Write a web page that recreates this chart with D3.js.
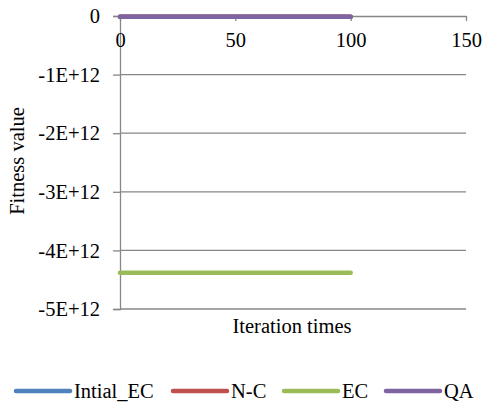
<!DOCTYPE html>
<html>
<head>
<meta charset="utf-8">
<script src="https://cdn.jsdelivr.net/npm/d3@7"></script>
<style>
  html, body { margin: 0; padding: 0; background: #fff; }
  svg text { font-family: "Liberation Serif", "Times New Roman", Times, "DejaVu Serif", serif; fill: #000; }
</style>
</head>
<body>
<svg id="chart" width="483" height="405"></svg>
<script>
// Iterations sampled along each run
const iterations = [0, 10, 20, 30, 40, 50, 60, 70, 80, 90, 100];

// Fitness values per algorithm
const initialEC = [-1.2e10, -1.2e10, -1.2e10, -1.2e10, -1.2e10, -1.2e10, -1.2e10, -1.2e10, -1.2e10, -1.2e10, -1.2e10];
const nC        = [-1.2e10, -1.2e10, -1.2e10, -1.2e10, -1.2e10, -1.2e10, -1.2e10, -1.2e10, -1.2e10, -1.2e10, -1.2e10];
const ec        = [-4.38e12, -4.38e12, -4.38e12, -4.38e12, -4.38e12, -4.38e12, -4.38e12, -4.38e12, -4.38e12, -4.38e12, -4.38e12];
const qa        = [-1.2e10, -1.2e10, -1.2e10, -1.2e10, -1.2e10, -1.2e10, -1.2e10, -1.2e10, -1.2e10, -1.2e10, -1.2e10];

const seriesNames  = ["Intial_EC", "N-C", "EC", "QA"];
const seriesColors = ["#4F81BD", "#C0504D", "#9BBB59", "#8064A2"];
const seriesValues = [initialEC, nC, ec, qa];

const xTicks = [0, 50, 100, 150];
const yTicks = [0, -1e12, -2e12, -3e12, -4e12, -5e12];
const yTickLabels = ["0", "-1E+12", "-2E+12", "-3E+12", "-4E+12", "-5E+12"];

const FONT = "Liberation Serif, Times New Roman, DejaVu Serif, serif";
const FS = 20.5;

const svg = d3.select("#chart");
const x = d3.scaleLinear().domain([0, 150]).range([120, 466]);
const y = d3.scaleLinear().domain([-5e12, 0]).range([309, 16]);
const axisColor = "#878787";

// Horizontal gridlines
svg.append("g")
  .selectAll("line")
  .data(yTicks.filter(v => v !== 0))
  .join("line")
  .attr("x1", x(0)).attr("x2", x(150))
  .attr("y1", d => y(d)).attr("y2", d => y(d))
  .attr("stroke", axisColor).attr("stroke-width", 1.3);

// Y axis
const yAxis = svg.append("g")
  .attr("transform", `translate(${x(0)},0)`)
  .call(d3.axisLeft(y).tickValues(yTicks)
    .tickFormat((d, i) => yTickLabels[i]).tickSize(7).tickPadding(13));
yAxis.attr("font-family", FONT).attr("font-size", FS);
yAxis.select(".domain").attr("stroke", axisColor).attr("stroke-width", 1.3);
yAxis.selectAll(".tick line").attr("stroke", axisColor).attr("stroke-width", 1.3);
yAxis.selectAll(".tick text").attr("fill", "#000").attr("dy", "0.33em");

// X axis crossing at zero
const xAxis = svg.append("g")
  .attr("transform", `translate(0,${y(0)})`)
  .call(d3.axisBottom(x).tickValues(xTicks).tickSize(5).tickSizeOuter(0));
xAxis.attr("font-family", FONT).attr("font-size", FS);
xAxis.select(".domain").attr("stroke", axisColor).attr("stroke-width", 1.3);
xAxis.selectAll(".tick line").attr("stroke", axisColor).attr("stroke-width", 1.3);
xAxis.selectAll(".tick text").attr("fill", "#000").attr("y", 31).attr("dy", 0);

// Series lines
const line = d3.line()
  .x((d, i) => x(iterations[i]))
  .y(d => y(d));

svg.append("g")
  .selectAll("path")
  .data(seriesValues)
  .join("path")
  .attr("d", d => line(d))
  .attr("fill", "none")
  .attr("stroke", (d, i) => seriesColors[i])
  .attr("stroke-width", 4.5)
  .attr("stroke-linecap", "round")
  .attr("stroke-linejoin", "round");

// Axis titles
svg.append("text")
  .attr("x", 292).attr("y", 333)
  .attr("text-anchor", "middle")
  .attr("font-family", FONT).attr("font-size", FS)
  .text("Iteration times");

svg.append("text")
  .attr("transform", "translate(24,161) rotate(-90)")
  .attr("text-anchor", "middle")
  .attr("font-family", FONT).attr("font-size", FS)
  .text("Fitness value");

// Legend
const legendX = [16, 173, 284, 386];
const legend = svg.append("g")
  .selectAll("g")
  .data(seriesNames)
  .join("g")
  .attr("transform", (d, i) => `translate(${legendX[i]},391)`);
legend.append("line")
  .attr("x1", 0).attr("x2", 54)
  .attr("stroke", (d, i) => seriesColors[i])
  .attr("stroke-width", 4.5).attr("stroke-linecap", "round");
legend.append("text")
  .attr("x", 58).attr("y", 7)
  .attr("font-family", FONT).attr("font-size", FS)
  .text(d => d);
</script>
</body>
</html>
